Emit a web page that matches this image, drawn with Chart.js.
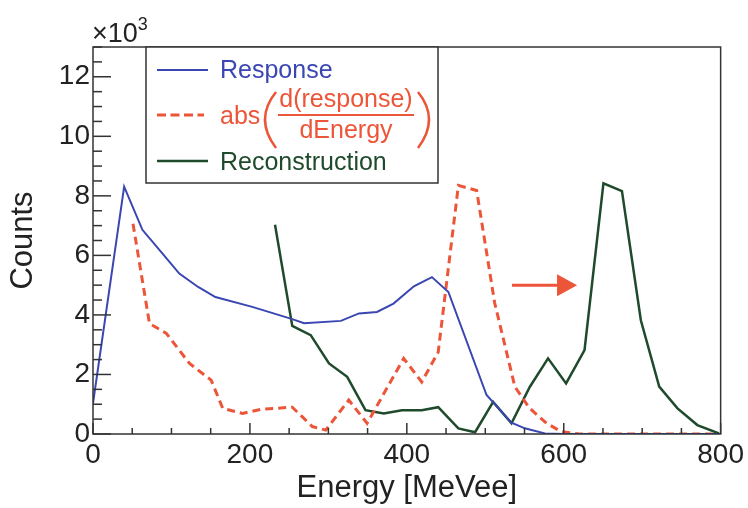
<!DOCTYPE html>
<html lang="en">
<head>
<meta charset="UTF-8">
<title>Response / Reconstruction</title>
<style>
  html, body { margin: 0; padding: 0; background: #fff; }
  #box { width: 748px; height: 508px; }
</style>
</head>
<body>
<div id="box"><canvas id="grafico" width="748" height="508"></canvas></div>

<script src="https://cdn.jsdelivr.net/npm/chart.js"></script>
<script>
  // energia em MeVee, contagens em unidades de 10^3
  const respostaE = [0, 39.7, 63, 87, 110, 134, 156, 203, 254, 269, 316, 339, 362, 383, 409, 432, 453, 501.6, 533.4, 550.4, 576, 600, 800];
  const respostaN = [1.03, 8.31, 6.86, 6.11, 5.39, 4.94, 4.60, 4.27, 3.86, 3.72, 3.80, 4.05, 4.10, 4.38, 4.96, 5.27, 4.77, 1.31, 0.38, 0.19, 0.02, 0, 0];

  const derivE = [51, 72, 93.5, 123, 150.6, 165.4, 190.7, 214, 254, 279.6, 296.6, 326, 349.4, 396, 419, 440, 465.7, 489, 512, 537.7, 556, 578, 597, 620, 790];
  const derivN = [7.06, 3.71, 3.38, 2.37, 1.81, 0.86, 0.69, 0.83, 0.90, 0.25, 0.13, 1.14, 0.36, 2.54, 1.75, 2.75, 8.35, 8.18, 4.4, 1.59, 0.88, 0.36, 0.08, 0, 0];

  const recoE = [232, 254, 277.5, 300.8, 324, 347.3, 370.6, 393.8, 419, 440, 465.7, 487, 510, 533.4, 556.7, 580, 603, 626.5, 650.6, 674.2, 698.3, 721.7, 745, 770.3, 797.8];
  const recoN = [7.03, 3.63, 3.32, 2.37, 1.92, 0.80, 0.69, 0.80, 0.80, 0.90, 0.19, 0.06, 1.08, 0.36, 1.58, 2.54, 1.70, 2.82, 8.42, 8.16, 3.82, 1.59, 0.86, 0.30, 0.02];

  const xTicks = [0, 200, 400, 600, 800];
  const yTicks = [0, 2, 4, 6, 8, 10, 12];

  // seta: inicio e ponta (energia, contagens)
  const seta = [[534, 5.0], [617, 5.0]];

  const FONTE = '"Liberation Sans", Arial, Helvetica, sans-serif';
  const AZUL = '#3a46b2';
  const VERMELHO = '#ec5538';
  const VERDE = '#1f4b2c';

  function pontos(xs, ys) {
    return xs.map((e, i) => ({ x: e, y: ys[i] }));
  }

  function linha(ctx, x1, y1, x2, y2) {
    ctx.beginPath();
    ctx.moveTo(x1, y1);
    ctx.lineTo(x2, y2);
    ctx.stroke();
  }

  // moldura, marcas dos eixos e seta
  const moldura = {
    id: 'moldura',
    afterDatasetsDraw(chart) {
      const { ctx, chartArea: a, scales: { x, y } } = chart;
      ctx.save();
      ctx.strokeStyle = '#333';
      ctx.lineWidth = 1.5;
      ctx.strokeRect(a.left, a.top, a.right - a.left, a.bottom - a.top);

      for (let v = 0; v <= 800; v += 50) {
        const px = x.getPixelForValue(v);
        linha(ctx, px, a.bottom, px, a.bottom - (v % 200 === 0 ? 11 : 6));
      }
      for (let v = 0; v <= 13; v += 0.5) {
        const py = y.getPixelForValue(v);
        linha(ctx, a.left, py, a.left + (v % 2 === 0 ? 18 : 9), py);
      }

      // seta vermelha
      const x1 = x.getPixelForValue(seta[0][0]);
      const x2 = x.getPixelForValue(seta[1][0]);
      const ys = y.getPixelForValue(seta[0][1]);
      ctx.strokeStyle = VERMELHO;
      ctx.fillStyle = VERMELHO;
      ctx.lineWidth = 3;
      linha(ctx, x1, ys, x2 - 18, ys);
      ctx.beginPath();
      ctx.moveTo(x2, ys);
      ctx.lineTo(x2 - 20, ys - 11);
      ctx.lineTo(x2 - 20, ys + 11);
      ctx.closePath();
      ctx.fill();
      ctx.restore();
    },
    afterDraw(chart) {
      const { ctx, chartArea: a } = chart;
      ctx.save();

      // x10^3 no topo do eixo
      ctx.fillStyle = '#222';
      ctx.textBaseline = 'alphabetic';
      ctx.font = '27px ' + FONTE;
      ctx.fillText('\u00d710', a.left - 1, a.top - 5);
      const w = ctx.measureText('\u00d710').width;
      ctx.font = '18px ' + FONTE;
      ctx.fillText('3', a.left - 1 + w, a.top - 17);

      // legenda
      const L = a.left + 53, T = a.top, R = a.left + 345, B = a.top + 136;
      ctx.fillStyle = '#fff';
      ctx.fillRect(L, T, R - L, B - T);
      ctx.strokeStyle = '#333';
      ctx.lineWidth = 1.5;
      ctx.strokeRect(L, T, R - L, B - T);

      const xs0 = L + 11, xs1 = L + 62, xt = L + 74;
      ctx.font = '25px ' + FONTE;

      ctx.strokeStyle = AZUL; ctx.lineWidth = 2;
      linha(ctx, xs0, T + 23, xs1, T + 23);
      ctx.fillStyle = AZUL;
      ctx.fillText('Response', xt, T + 31);

      ctx.strokeStyle = VERMELHO; ctx.lineWidth = 3;
      ctx.setLineDash([9, 4.5]);
      linha(ctx, xs0, T + 68, xs1 - 4, T + 68);
      ctx.setLineDash([]);
      ctx.fillStyle = VERMELHO;
      ctx.fillText('abs', xt, T + 77);
      // parenteses e fracao
      ctx.lineWidth = 2.5;
      ctx.beginPath();
      ctx.moveTo(L + 130, T + 45);
      ctx.quadraticCurveTo(L + 108, T + 72, L + 130, T + 101);
      ctx.stroke();
      ctx.beginPath();
      ctx.moveTo(L + 272, T + 45);
      ctx.quadraticCurveTo(L + 294, T + 72, L + 272, T + 101);
      ctx.stroke();
      ctx.lineWidth = 1.8;
      linha(ctx, L + 132, T + 68, L + 268, T + 68);
      ctx.textAlign = 'center';
      ctx.fillText('d(response)', L + 200, T + 60);
      ctx.fillText('dEnergy', L + 200, T + 91);
      ctx.textAlign = 'left';

      ctx.strokeStyle = VERDE; ctx.lineWidth = 2.5;
      linha(ctx, xs0, T + 114, xs1, T + 114);
      ctx.fillStyle = VERDE;
      ctx.fillText('Reconstruction', xt, T + 123);

      ctx.restore();
    }
  };

  new Chart(document.getElementById('grafico'), {
    type: 'line',
    data: {
      datasets: [
        { label: 'Response', data: pontos(respostaE, respostaN), borderColor: AZUL, borderWidth: 2 },
        { label: 'abs(d(response)/dEnergy)', data: pontos(derivE, derivN), borderColor: VERMELHO, borderWidth: 3, borderDash: [8, 5] },
        { label: 'Reconstruction', data: pontos(recoE, recoN), borderColor: VERDE, borderWidth: 2.5 }
      ]
    },
    options: {
      responsive: false,
      animation: false,
      devicePixelRatio: 1,
      layout: { padding: { top: 47, right: 25, left: 0, bottom: 0 } },
      elements: { point: { radius: 0 }, line: { tension: 0, fill: false } },
      plugins: { legend: { display: false }, tooltip: { enabled: false } },
      scales: {
        x: {
          type: 'linear', min: 0, max: 800,
          afterBuildTicks: s => { s.ticks = xTicks.map(v => ({ value: v })); },
          afterFit: s => { s.height = 74; },
          grid: { display: false, drawTicks: false },
          border: { display: false },
          ticks: { font: { size: 28, family: FONTE }, color: '#222', padding: 4, maxRotation: 0, autoSkip: false },
          title: { display: true, text: 'Energy [MeVee]', font: { size: 31, family: FONTE }, color: '#222', padding: { top: 0, bottom: 1 } }
        },
        y: {
          type: 'linear', min: 0, max: 13,
          afterBuildTicks: s => { s.ticks = yTicks.map(v => ({ value: v })); },
          afterFit: s => { s.width = 93; },
          grid: { display: false, drawTicks: false },
          border: { display: false },
          ticks: { font: { size: 28, family: FONTE }, color: '#222', padding: 3 },
          title: { display: true, text: 'Counts', font: { size: 31, family: FONTE }, color: '#222', padding: { top: 5, bottom: 0 } }
        }
      }
    },
    plugins: [moldura]
  });
</script>
</body>
</html>
